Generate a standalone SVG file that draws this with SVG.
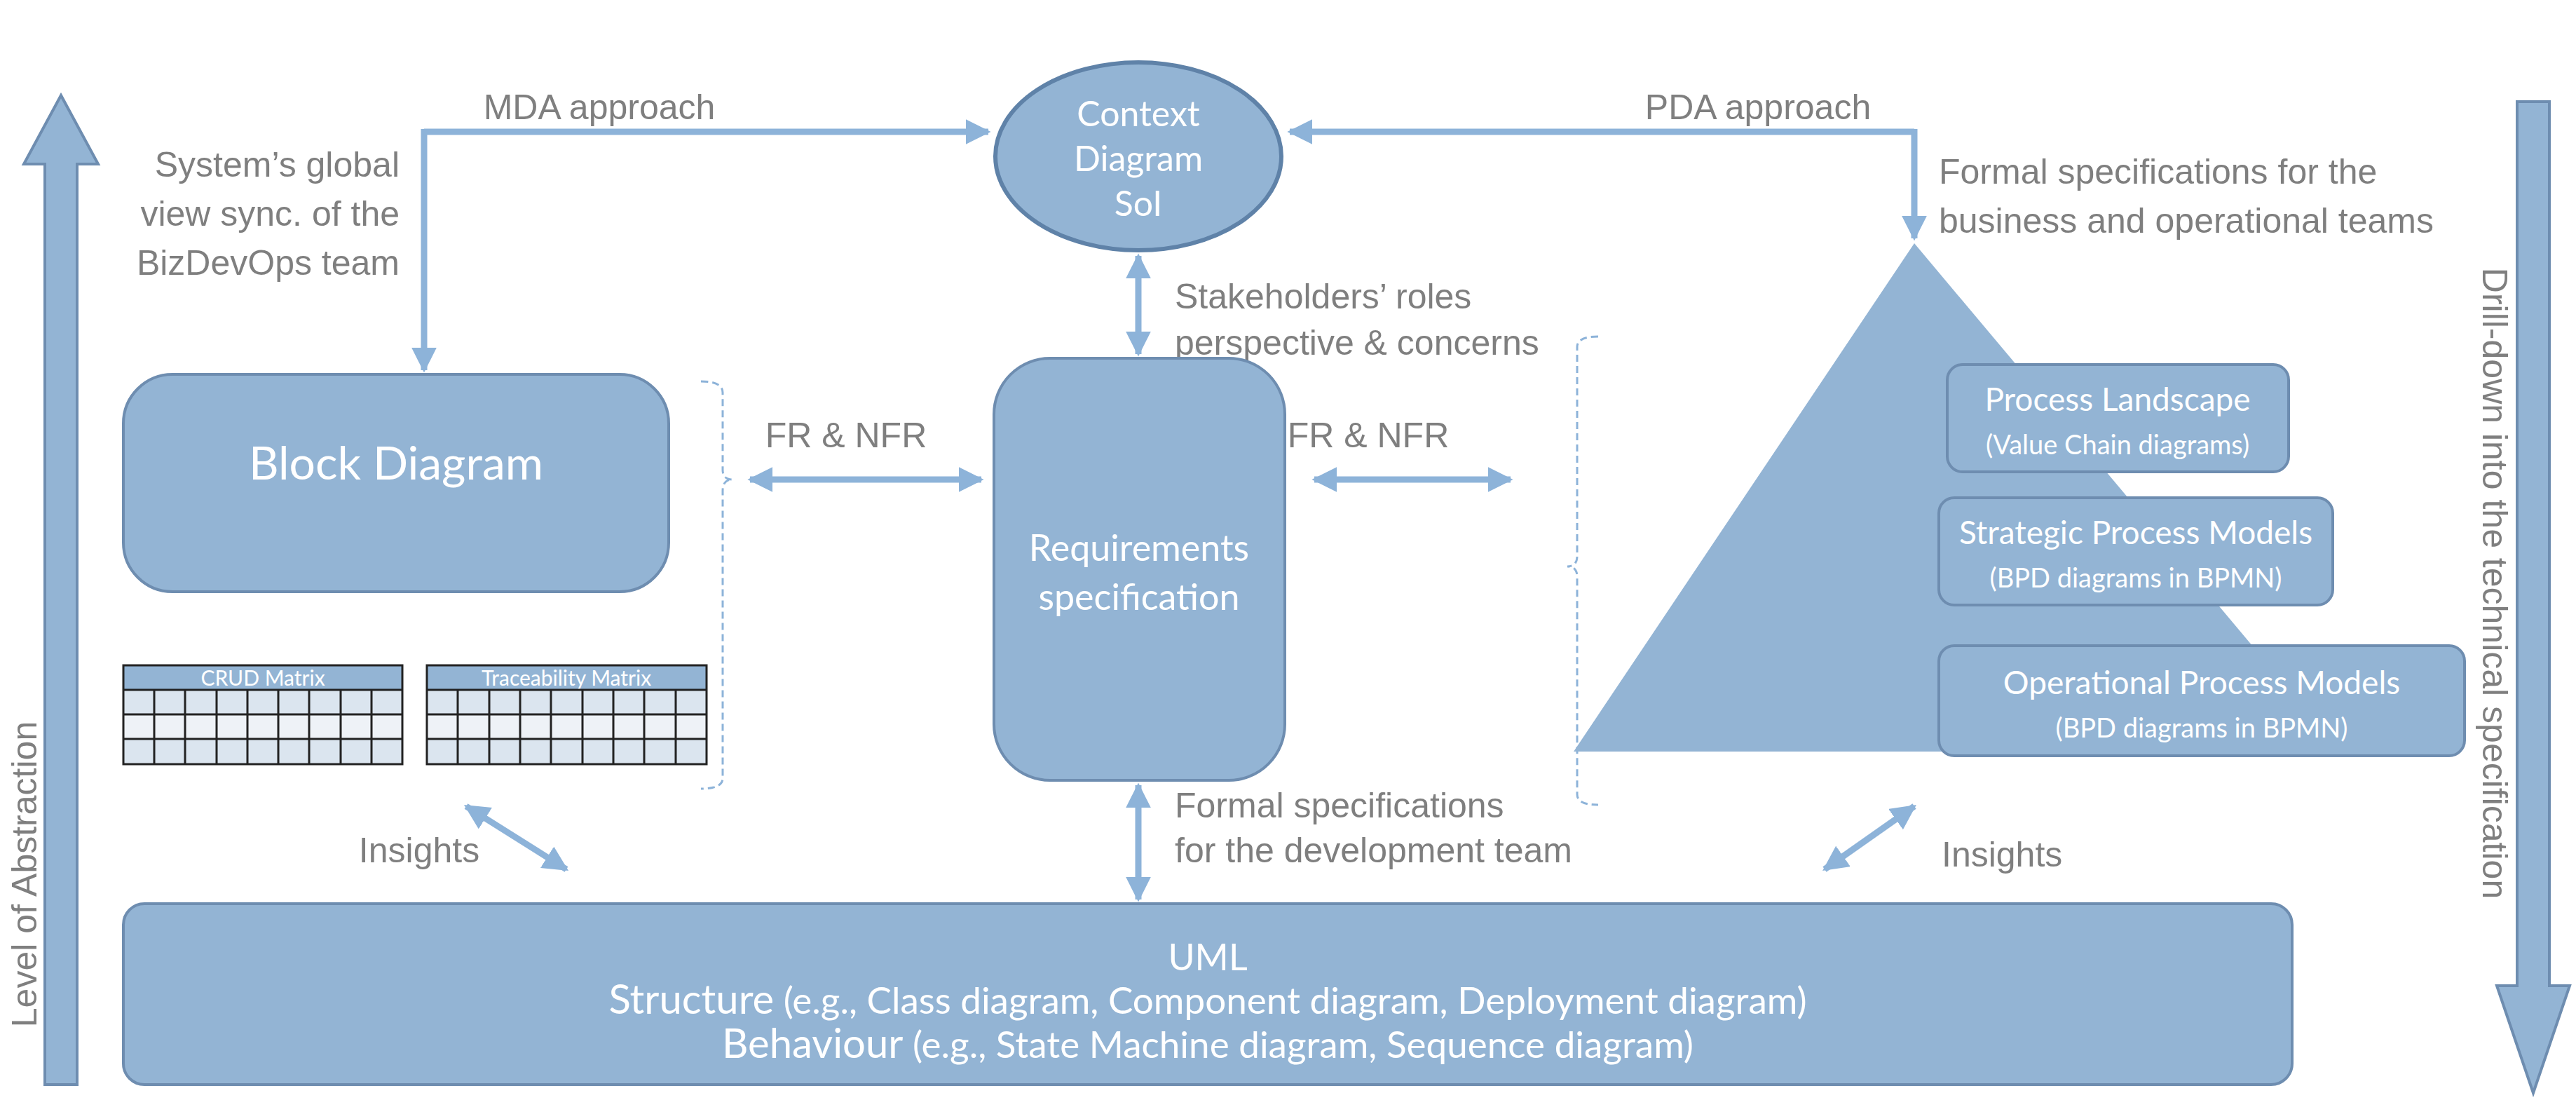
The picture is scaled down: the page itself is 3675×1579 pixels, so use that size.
<svg xmlns="http://www.w3.org/2000/svg" width="3675" height="1579" viewBox="0 0 3675 1579">
<style>
.node{fill:#93b4d4;stroke:#6e8db0;stroke-width:4}
.nt{font-family:"Lato","Open Sans",sans-serif;fill:#fff;text-anchor:middle}
.lbl{font-family:"Liberation Sans",Arial,sans-serif;fill:#7f7f7f;font-size:50px}
.con{fill:none;stroke:#8db3d9;stroke-width:9}
.brk{fill:none;stroke:#8db3d9;stroke-width:3;stroke-dasharray:10 6}
.grid{stroke:#222;stroke-width:3}
.ul{font-size:53px}
</style>
<defs>
<marker id="ah" viewBox="0 0 10 10" refX="9" refY="5" markerWidth="4" markerHeight="4" orient="auto-start-reverse" markerUnits="strokeWidth">
<path d="M0,0 L10,5 L0,10 z" fill="#8db3d9"/>
</marker>
</defs>
<rect width="3675" height="1579" fill="#fff"/>
<g id="abstraction-arrow">
<polygon class="node" points="87,136 140,234 110,234 110,1547 64,1547 64,234 34,234"/>
<text class="lbl" font-size="48" transform="translate(52,1247) rotate(-90)" text-anchor="middle">Level of Abstraction</text>
</g>
<g id="drill-arrow">
<polygon class="node" points="3591,145 3637,145 3637,1406 3666,1406 3614,1559 3562,1406 3591,1406"/>
<text class="lbl" font-size="54" transform="translate(3542,832) rotate(90)" text-anchor="middle">Drill-down into the technical specification</text>
</g>
<g id="connectors">
<path class="con" d="M605,188 H1410" marker-end="url(#ah)"/>
<path class="con" d="M605,184 V528" marker-end="url(#ah)"/>
<path class="con" d="M2731,188 H1840" marker-end="url(#ah)"/>
<path class="con" d="M2731,184 V340" marker-end="url(#ah)"/>
<path class="con" d="M1624,365 V505" marker-start="url(#ah)" marker-end="url(#ah)"/>
<path class="con" d="M1624,1120 V1283" marker-start="url(#ah)" marker-end="url(#ah)"/>
<path class="con" d="M1070,684 H1400" marker-start="url(#ah)" marker-end="url(#ah)"/>
<path class="con" d="M1875,684 H2155" marker-start="url(#ah)" marker-end="url(#ah)"/>
<path class="con" d="M665,1150 L808,1240" marker-start="url(#ah)" marker-end="url(#ah)"/>
<path class="con" d="M2603,1240 L2731,1150" marker-start="url(#ah)" marker-end="url(#ah)"/>
<path class="brk" d="M1000,544 Q1031,544 1031,560 V670 Q1031,684 1045,684 Q1031,684 1031,700 V1110 Q1031,1125 1000,1125"/>
<path class="brk" d="M2280,480 Q2250,480 2250,495 V793 Q2250,808 2236,808 Q2250,808 2250,823 V1133 Q2250,1148 2280,1148"/>
</g>
<g id="labels">
<text class="lbl" x="855" y="170" font-size="80" text-anchor="middle">MDA approach</text>
<text class="lbl" x="2508" y="170" font-size="80" text-anchor="middle">PDA approach</text>
<text class="lbl" text-anchor="end"><tspan x="570" y="252">System’s global</tspan><tspan x="570" y="322">view sync. of the</tspan><tspan x="570" y="392">BizDevOps team</tspan></text>
<text class="lbl"><tspan x="2766" y="262">Formal specifications for the</tspan><tspan x="2766" y="332">business and operational teams</tspan></text>
<text class="lbl"><tspan x="1676" y="440">Stakeholders’ roles</tspan><tspan x="1676" y="506">perspective &amp; concerns</tspan></text>
<text class="lbl"><tspan x="1676" y="1166">Formal specifications</tspan><tspan x="1676" y="1230">for the development team</tspan></text>
<text class="lbl" x="1207" y="638" font-size="46" text-anchor="middle">FR &amp; NFR</text>
<text class="lbl" x="1952" y="638" font-size="46" text-anchor="middle">FR &amp; NFR</text>
<text class="lbl" x="598" y="1230" text-anchor="middle">Insights</text>
<text class="lbl" x="2770" y="1236">Insights</text>
</g>
<g id="context">
<ellipse cx="1624" cy="223" rx="204" ry="134" fill="#93b4d4" stroke="#5f82a8" stroke-width="6"/>
<text class="nt" font-size="50"><tspan x="1624" y="180">Context</tspan><tspan x="1624" y="244">Diagram</tspan><tspan x="1624" y="308">SoI</tspan></text>
</g>
<g id="block-diagram">
<rect class="node" x="176" y="534" width="778" height="310" rx="70"/>
<text class="nt" x="565" y="684" font-size="66">Block Diagram</text>
</g>
<g id="crud-matrix">
<rect x="176" y="949" width="398" height="35" fill="#93b4d4"/>
<rect x="176" y="984" width="398" height="35" fill="#dbe5ef"/>
<rect x="176" y="1019" width="398" height="35" fill="#eef2f7"/>
<rect x="176" y="1054" width="398" height="36" fill="#dbe5ef"/>
<text class="nt" x="375" y="978" font-size="30">CRUD Matrix</text>
<path class="grid" fill="none" d="M176,949H574V1090H176Z M176,984H574 M176,1019H574 M176,1054H574 M220,984V1090 M264,984V1090 M309,984V1090 M353,984V1090 M397,984V1090 M441,984V1090 M486,984V1090 M530,984V1090"/>
</g>
<g id="traceability-matrix">
<rect x="609" y="949" width="399" height="35" fill="#93b4d4"/>
<rect x="609" y="984" width="399" height="35" fill="#dbe5ef"/>
<rect x="609" y="1019" width="399" height="35" fill="#eef2f7"/>
<rect x="609" y="1054" width="399" height="36" fill="#dbe5ef"/>
<text class="nt" x="808" y="978" font-size="30">Traceability Matrix</text>
<path class="grid" fill="none" d="M609,949H1008V1090H609Z M609,984H1008 M609,1019H1008 M609,1054H1008 M653,984V1090 M698,984V1090 M742,984V1090 M786,984V1090 M831,984V1090 M875,984V1090 M919,984V1090 M964,984V1090"/>
</g>
<g id="requirements">
<rect class="node" x="1418" y="511" width="415" height="602" rx="80"/>
<text class="nt" font-size="52"><tspan x="1625" y="800">Requirements</tspan><tspan x="1625" y="870">specification</tspan></text>
</g>
<g id="pyramid">
<polygon points="2731,347 3340,1072 2245,1072" fill="#93b4d4"/>
</g>
<g id="process-landscape">
<rect class="node" x="2778" y="520" width="487" height="153" rx="22"/>
<text class="nt" font-size="46"><tspan x="3021" y="586">Process Landscape</tspan><tspan x="3021" y="648" font-size="38">(Value Chain diagrams)</tspan></text>
</g>
<g id="strategic">
<rect class="node" x="2766" y="710" width="562" height="153" rx="22"/>
<text class="nt" font-size="46"><tspan x="3047" y="776">Strategic Process Models</tspan><tspan x="3047" y="838" font-size="38">(BPD diagrams in BPMN)</tspan></text>
</g>
<g id="operational">
<rect class="node" x="2766" y="921" width="750" height="157" rx="22"/>
<text class="nt" font-size="46"><tspan x="3141" y="990">Operational Process Models</tspan><tspan x="3141" y="1052" font-size="38">(BPD diagrams in BPMN)</tspan></text>
</g>
<g id="uml">
<rect class="node" x="176" y="1289" width="3094" height="258" rx="30"/>
<text class="nt" x="1723" y="1384" font-size="52">UML</text>
<text class="nt" x="1723" y="1446" font-size="58">Structure<tspan class="ul"> (e.g., Class diagram, Component diagram, Deployment diagram)</tspan></text>
<text class="nt" x="1723" y="1509" font-size="58">Behaviour<tspan class="ul"> (e.g., State Machine diagram, Sequence diagram)</tspan></text>
</g>
</svg>
